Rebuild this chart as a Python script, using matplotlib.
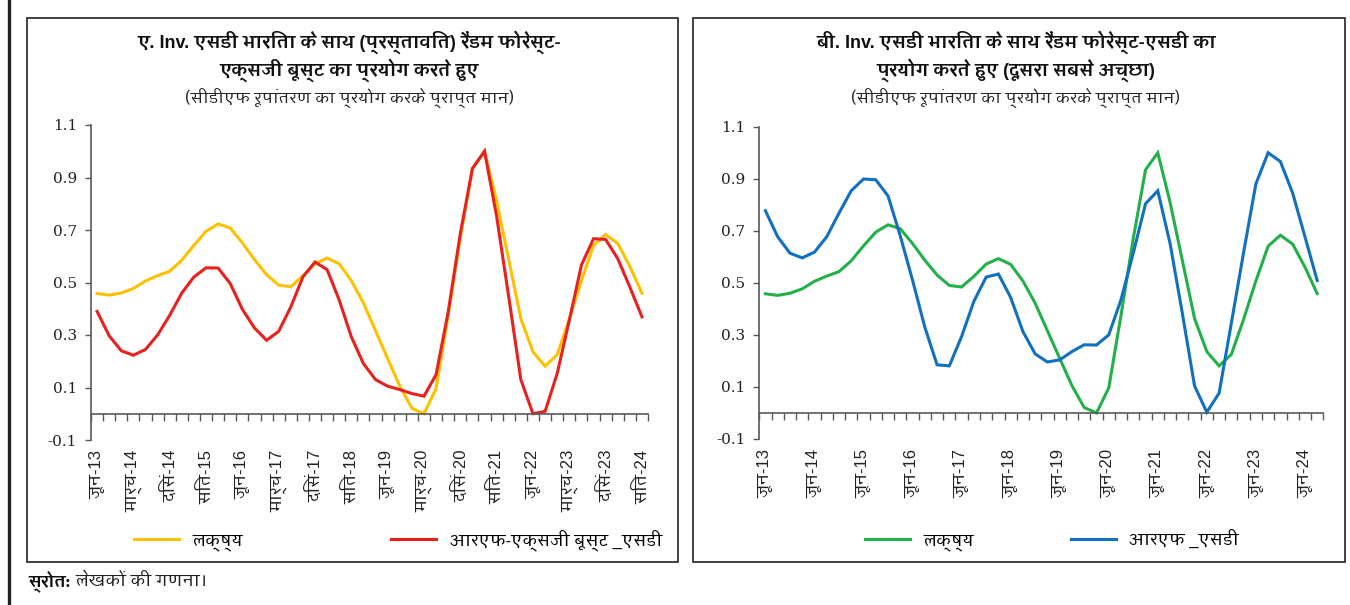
import numpy as np
import matplotlib
matplotlib.use("Agg")
import matplotlib.pyplot as plt
from matplotlib import font_manager
from matplotlib.ft2font import FT2Font
from matplotlib.patches import Rectangle
from matplotlib.lines import Line2D
from matplotlib.text import Annotation

# quarterly series, Jun-13 .. Sep-24 (46 quarters), CDF-transformed
target = [0.458, 0.452, 0.460, 0.477, 0.506, 0.526, 0.543, 0.585, 0.642, 0.695,
          0.723, 0.708, 0.651, 0.587, 0.530, 0.490, 0.484, 0.525, 0.572, 0.593,
          0.571, 0.507, 0.422, 0.316, 0.210, 0.105, 0.021, 0.000, 0.096, 0.375,
          0.670, 0.934, 1.000, 0.810, 0.587, 0.363, 0.236, 0.181, 0.225, 0.360,
          0.507, 0.641, 0.683, 0.649, 0.561, 0.459]
rf_xgb_sd = [0.390, 0.297, 0.240, 0.223, 0.245, 0.300, 0.375, 0.460, 0.521, 0.556,
             0.555, 0.496, 0.398, 0.327, 0.280, 0.314, 0.407, 0.521, 0.578, 0.549,
             0.433, 0.293, 0.191, 0.130, 0.105, 0.092, 0.077, 0.067, 0.149, 0.388,
             0.686, 0.934, 1.000, 0.752, 0.445, 0.130, 0.000, 0.009, 0.153, 0.356,
             0.566, 0.667, 0.664, 0.591, 0.483, 0.369]
rf_sd = [0.777, 0.677, 0.614, 0.596, 0.618, 0.677, 0.768, 0.854, 0.899, 0.896,
         0.834, 0.680, 0.510, 0.330, 0.185, 0.181, 0.294, 0.429, 0.522, 0.534,
         0.444, 0.313, 0.227, 0.196, 0.204, 0.236, 0.262, 0.261, 0.300, 0.435,
         0.614, 0.804, 0.854, 0.652, 0.384, 0.104, 0.003, 0.076, 0.345, 0.617,
         0.880, 1.000, 0.966, 0.845, 0.678, 0.509]

labels_a = ['जून-13', 'मार्च-14', 'दिसं-14', 'सित-15', 'जून-16', 'मार्च-17', 'दिसं-17',
            'सित-18', 'जून-19', 'मार्च-20', 'दिसं-20', 'सित-21', 'जून-22', 'मार्च-23',
            'दिसं-23', 'सित-24']
labels_b = ['जून-13', 'जून-14', 'जून-15', 'जून-16', 'जून-17', 'जून-18', 'जून-19',
            'जून-20', 'जून-21', 'जून-22', 'जून-23', 'जून-24']
yticks = [-0.1, 0.1, 0.3, 0.5, 0.7, 0.9, 1.1]

title_a = ["ए. Inv. एसडी भारिता के साथ (प्रस्तावित) रैंडम फोरेस्ट-",
           "एक्सजी बूस्ट का प्रयोग करते हुए"]
title_b = ["बी. Inv. एसडी भारिता के साथ रैंडम फोरेस्ट-एसडी का",
           "प्रयोग करते हुए (दूसरा सबसे अच्छा)"]
subtitle = "(सीडीएफ रूपांतरण का प्रयोग करके प्राप्त मान)"


def devanagari_families():
    # families with Devanagari glyphs, those with a bold face first
    found = {}
    for f in font_manager.fontManager.ttflist:
        try:
            if 0x0915 in FT2Font(f.fname).get_charmap():
                w = f.weight if isinstance(f.weight, int) else 400
                found.setdefault(f.name, set()).add(w)
        except Exception:
            pass
    return sorted(found, key=lambda n: (max(found[n]) < 600, n))


deva = devanagari_families()
plt.rcParams['font.family'] = deva + ['DejaVu Sans']
LATIN = ['Liberation Sans'] + deva
AXIS = '#595959'

fig = plt.figure(figsize=(13.5, 6.05), dpi=100)
W, H = 1350, 605


def fx(px):
    return px / W


def fy(py):
    return 1 - py / H


def panel(rect, frame, series, colors, names, xlabels, step, title, legend_center, colspacing):
    ax = fig.add_axes(rect)
    x = np.arange(len(series[0]))
    for s, c, n in zip(series, colors, names):
        ax.plot(x, s, color=c, lw=2.2, label=n, solid_joinstyle='miter')
    ax.set_xlim(-0.5, len(x) - 0.5)
    ax.set_ylim(-0.1, 1.1)
    ax.set_yticks(yticks)
    ax.set_yticklabels([f"{v:.1f}" for v in yticks], family='DejaVu Serif', fontsize=11, color='#222222')
    ax.tick_params(axis='y', length=4, width=1, color=AXIS, pad=6)
    for sp in ['top', 'right']:
        ax.spines[sp].set_visible(False)
    ax.spines['left'].set_color(AXIS)
    ax.spines['left'].set_linewidth(1.2)
    # category axis sits at zero, with tick marks between categories
    ax.spines['bottom'].set_position(('data', 0))
    ax.spines['bottom'].set_color(AXIS)
    ax.spines['bottom'].set_linewidth(1.2)
    ax.set_xticks(np.arange(-0.5, len(x)))
    ax.set_xticklabels([])
    ax.tick_params(axis='x', length=5, width=1, color=AXIS, direction='out')
    sec = ax.secondary_xaxis(0.0)
    sec.set_xticks(x[::step], xlabels, rotation=90, fontsize=12, color='#222222', family=LATIN)
    sec.tick_params(length=0, pad=7)
    sec.spines['bottom'].set_visible(False)

    # boxed panel with centred heading
    x0, x1 = frame
    fig.patches.append(Rectangle((fx(x0), fy(562)), fx(x1 - x0), (562 - 18) / H,
                                 transform=fig.transFigure, fill=False,
                                 edgecolor='#222222', lw=1.2))
    cx = fx((x0 + x1) / 2 - 3)
    for line, py in zip(title, [42, 70]):
        fig.text(cx, fy(py), line, ha='center', va='center', fontsize=13,
                 fontweight='bold', color='#111111', family=LATIN)
    fig.text(cx, fy(98), subtitle, ha='center', va='center', fontsize=11.5,
             style='italic', color='#222222')
    ax.legend(loc='center', bbox_to_anchor=legend_center, bbox_transform=fig.transFigure,
              ncol=2, frameon=False, prop={'size': 12, 'family': LATIN},
              handlelength=2.7, columnspacing=colspacing, handletextpad=0.8)
    return ax


panel([fx(91), fy(440), fx(648 - 91), (440 - 125) / H], (27, 678),
      [target, rf_xgb_sd], ['#FFC000', '#E8211E'],
      ['लक्ष्य', 'आरएफ-एक्सजी बूस्ट _एसडी'], labels_a, 3, title_a,
      (fx(398), fy(540)), 8.9)
panel([fx(759.3), fy(439), fx(1323.3 - 759.3), (439 - 126.7) / H], (693, 1345),
      [target, rf_sd], ['#22B04B', '#1170C0'],
      ['लक्ष्य', 'आरएफ _एसडी'], labels_b, 4, title_b,
      (fx(1052), fy(540)), 5.8)

# page rule on the left edge
fig.lines.append(Line2D([fx(8.5), fx(8.5)], [0, 1], transform=fig.transFigure,
                        color='#222222', lw=2.4))

src = fig.text(fx(28), fy(581), "स्रोत:", fontsize=12, fontweight='bold', va='center',
               color='#111111')
fig.add_artist(Annotation("लेखकों की गणना।", xy=(1, 0.5), xycoords=src,
                          xytext=(4, 0), textcoords='offset points',
                          va='center', fontsize=12, color='#222222'))

fig.savefig("out.png", dpi=100)
